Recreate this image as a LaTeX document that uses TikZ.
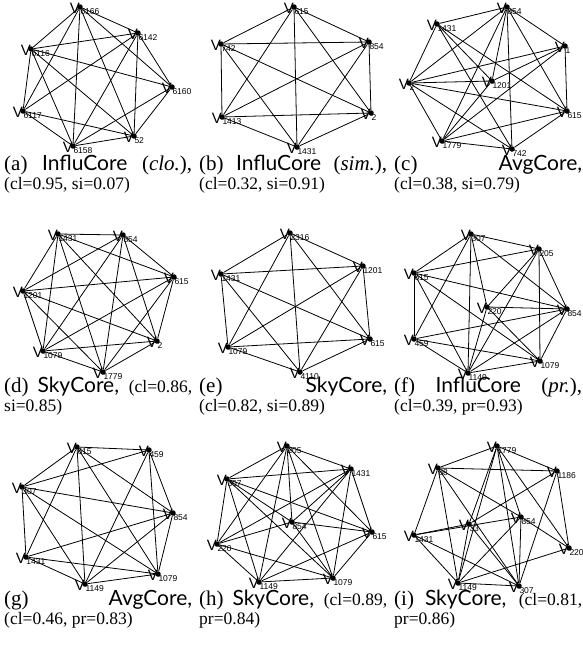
\documentclass[tikz,border=0pt]{standalone}
\usepackage{fontspec}
\setmainfont{Liberation Serif}
\newfontfamily\capsf{Lato}
\newfontfamily\labsf{Liberation Sans}
\newcommand\vtx[4]{%
  \node[vx] (#1) at (#2,#3) {};
  \node[vletter] (#1V) at ([yshift=-6pt]#1.center) {V};
  \node[vsub] (#1S) at ([yshift=-7.5pt,xshift=0.3pt]#1.center) {#4};
}
\newcommand\bigsz{\fontsize{21}{24}\selectfont}
\newcommand\smsz{\fontsize{17.5}{20}\selectfont}
\tikzset{
  vx/.style={circle, fill=black, inner sep=0pt, minimum size=5.5pt},
  ed/.style={line width=0.8pt, black},
  vletter/.style={anchor=base east, inner sep=0pt, font=\labsf\fontsize{15}{15}\selectfont},
  vsub/.style={anchor=base west, inner sep=0pt, font=\labsf\fontsize{8.5}{8.5}\selectfont},
  capbig/.style={anchor=base west, inner sep=0pt, font=\bigsz},
  capsmall/.style={anchor=base west, inner sep=0pt, font=\smsz},
}
\begin{document}
\begin{tikzpicture}[x=1pt,y=-1pt]
\useasboundingbox (0,0) rectangle (583,646);
% ---------- (a)
\vtx{a6166}{80}{7}{6166}
\vtx{a6142}{138}{33}{6142}
\vtx{a6116}{31}{49}{6116}
\vtx{a6160}{172}{87}{6160}
\vtx{a6117}{23}{111}{6117}
\vtx{a52}{134}{136}{52}
\vtx{a6158}{73}{146}{6158}
\foreach \u/\v in {6166/6142,6166/6116,6166/6160,6166/6117,6166/52,6166/6158,
  6142/6116,6142/6160,6142/6117,6142/52,6142/6158,6116/6160,6116/6117,6116/52,
  6116/6158,6160/52,6160/6158,6117/52,6117/6158,52/6158}
  \draw[ed] (a\u) -- (a\v);
% ---------- (b)
\vtx{b615}{294}{7}{615}
\vtx{b854}{369}{42}{854}
\vtx{b742}{221}{44}{742}
\vtx{b1413}{222}{117}{1413}
\vtx{b2}{371}{113}{2}
\vtx{b1431}{297}{147}{1431}
\foreach \u/\v in {615/854,615/742,615/1413,615/2,615/1431,742/854,742/1413,742/2,
  742/1431,854/1413,854/2,854/1431,1413/2,1413/1431,2/1431}
  \draw[ed] (b\u) -- (b\v);
% ---------- (c)
\vtx{c854}{507}{7}{854}
\vtx{c1431}{437}{24}{1431}
\vtx{c1}{565}{46}{1}
\vtx{c2}{409}{83}{2}
\vtx{c1201}{492}{81}{1201}
\vtx{c615}{567}{111}{615}
\vtx{c1779}{442}{141}{1779}
\vtx{c742}{512}{149}{742}
\foreach \u/\v in {854/1431,854/1,854/2,854/1201,854/1779,854/742,854/615,
  1431/2,1431/1201,1431/615,1431/742,1/2,1/1201,1/615,1/1779,2/1201,2/615,
  2/742,2/1779,1201/1779,615/1779,615/742,1779/742}
  \draw[ed] (c\u) -- (c\v);
% ---------- (d)
\vtx{d1431}{58}{234}{1431}
\vtx{d854}{123}{235}{854}
\vtx{d615}{174}{277}{615}
\vtx{d1201}{23}{291}{1201}
\vtx{d2}{157}{341}{2}
\vtx{d1079}{43}{351}{1079}
\vtx{d1779}{103}{372}{1779}
\foreach \u/\v in {1431/854,1431/615,1431/1201,1431/1079,1431/2,1431/1779,
  854/1201,854/615,854/2,854/1079,854/1779,615/1201,615/1079,615/2,615/1779,
  1201/2,1201/1079,1201/1779,2/1079,2/1779,1079/1779}
  \draw[ed] (d\u) -- (d\v);
% ---------- (e)
\vtx{e2316}{290}{233}{2316}
\vtx{e1201}{363}{266}{1201}
\vtx{e1431}{221}{274}{1431}
\vtx{e615}{370}{339}{615}
\vtx{e1079}{228}{347}{1079}
\vtx{e4110}{300}{372}{4110}
\foreach \u/\v in {2316/1201,2316/1431,2316/615,2316/1079,2316/4110,1201/1431,
  1201/1079,1201/615,1201/4110,1431/615,1431/1079,1431/4110,1079/615,1079/4110,615/4110}
  \draw[ed] (e\u) -- (e\v);
% ---------- (f)
\vtx{f307}{471}{234}{307}
\vtx{f205}{539}{249}{205}
\vtx{f615}{414}{273}{615}
\vtx{f220}{487}{307}{220}
\vtx{f854}{567}{309}{854}
\vtx{f459}{414}{339}{459}
\vtx{f1149}{468}{373}{1149}
\vtx{f1079}{540}{361}{1079}
\foreach \u/\v in {307/205,307/615,307/220,307/854,307/1149,307/459,
  205/615,205/220,205/854,205/1079,205/1149,615/854,615/459,615/1149,615/1079,
  220/854,220/1149,220/1079,459/854,459/1079,459/1149,854/1149,854/1079,1149/1079}
  \draw[ed] (f\u) -- (f\v);
% ---------- (g)
\vtx{g615}{77}{447}{615}
\vtx{g459}{149}{450}{459}
\vtx{g307}{22}{487}{307}
\vtx{g854}{173}{513}{854}
\vtx{g1431}{26}{557}{1431}
\vtx{g1149}{85}{584}{1149}
\vtx{g1079}{158}{574}{1079}
\foreach \u/\v in {615/459,615/307,615/854,615/1431,615/1149,615/1079,
  459/307,459/1079,459/1149,459/854,307/854,307/1431,307/1149,307/1079,
  854/1431,854/1149,854/1079,1431/1149,1431/1079,1149/1079}
  \draw[ed] (g\u) -- (g\v);
% ---------- (h)
\vtx{h205}{287}{446}{205}
\vtx{h1431}{351}{469}{1431}
\vtx{h307}{227}{479}{307}
\vtx{h854}{292}{522}{854}
\vtx{h615}{372}{532}{615}
\vtx{h220}{217}{544}{220}
\vtx{h1149}{259}{582}{1149}
\vtx{h1079}{333}{578}{1079}
\foreach \u/\v in {205/1431,205/307,205/854,205/615,205/220,205/1149,205/1079,
  1431/307,1431/854,1431/220,1431/615,1431/1149,1431/1079,307/854,307/615,
  307/220,307/1149,307/1079,854/220,854/615,854/1079,615/1149,615/1079,
  220/1079,220/1149,1149/1079}
  \draw[ed] (h\u) -- (h\v);
% ---------- (i)
\vtx{i1779}{497}{446}{1779}
\vtx{i88}{438}{468}{88}
\vtx{i1186}{557}{471}{1186}
\vtx{i33}{469}{524}{33}
\vtx{i854}{521}{517}{854}
\vtx{i1431}{414}{535}{1431}
\vtx{i220}{569}{548}{220}
\vtx{i1149}{458}{583}{1149}
\vtx{i307}{519}{586}{307}
\foreach \u/\v in {1779/88,1779/1186,1779/33,1779/854,1779/1149,1779/307,1779/220,
  88/1186,88/1431,88/854,88/307,88/1149,1186/33,1186/220,1186/307,1431/33,
  1431/854,1431/1149,1431/307,33/307,33/1149,854/1149,854/307,854/220,
  220/1149,1149/307}
  \draw[ed] (i\u) -- (i\v);
% ---------- captions
\node[capbig] (capa1) at (4,170) {\makebox[188pt][s]{(a) {\capsf InfluCore} (\textit{clo.}),}};
\node[capsmall] (capa2) at (4,189) {(cl=0.95, si=0.07)};
\node[capbig] (capb1) at (199,170) {\makebox[188pt][s]{(b) {\capsf InfluCore} (\textit{sim.}),}};
\node[capsmall] (capb2) at (199,189) {(cl=0.32, si=0.91)};
\node[capbig] (capc1) at (394,170) {\makebox[188pt][s]{(c) {\capsf AvgCore,}}};
\node[capsmall] (capc2) at (394,189) {(cl=0.38, si=0.79)};
\node[capbig] (capd1) at (4,392) {\makebox[188pt][s]{(d) {\capsf SkyCore,} {\smsz(cl=0.86,}}};
\node[capsmall] (capd2) at (4,411) {si=0.85)};
\node[capbig] (cape1) at (199,392) {\makebox[188pt][s]{(e) {\capsf SkyCore,}}};
\node[capsmall] (cape2) at (199,411) {(cl=0.82, si=0.89)};
\node[capbig] (capf1) at (394,392) {\makebox[188pt][s]{(f) {\capsf InfluCore} (\textit{pr.}),}};
\node[capsmall] (capf2) at (394,411) {(cl=0.39, pr=0.93)};
\node[capbig] (capg1) at (4,605) {\makebox[188pt][s]{(g) {\capsf AvgCore,}}};
\node[capsmall] (capg2) at (4,624) {(cl=0.46, pr=0.83)};
\node[capbig] (caph1) at (199,605) {\makebox[188pt][s]{(h) {\capsf SkyCore,} {\smsz(cl=0.89,}}};
\node[capsmall] (caph2) at (199,624) {pr=0.84)};
\node[capbig] (capi1) at (394,605) {\makebox[188pt][s]{(i) {\capsf SkyCore,} {\smsz(cl=0.81,}}};
\node[capsmall] (capi2) at (394,624) {pr=0.86)};
\end{tikzpicture}
\end{document}
